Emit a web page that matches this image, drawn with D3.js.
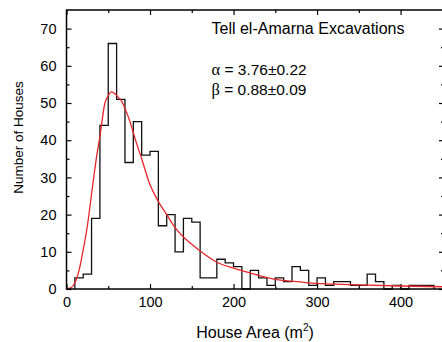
<!DOCTYPE html>
<html>
<head>
<meta charset="utf-8">
<script src="https://cdn.jsdelivr.net/npm/d3@7"></script>
<style>
  body { margin: 0; background: #fff; }
  svg { display: block; font-family: "Liberation Sans", Arial, sans-serif; }
</style>
</head>
<body>
<div id="chart"></div>
<script>
// histogram bins (left edge, m^2) and house counts, 10 m^2 wide
const binStarts = [10, 20, 30, 40, 50, 60, 70, 80, 90, 100, 110, 120, 130, 140, 150, 160, 170, 180, 190, 200,
    210, 220, 230, 240, 250, 260, 270, 280, 290, 300, 310, 320, 330, 340, 350, 360, 370, 380, 390, 400,
    410, 420, 430];
const binCounts = [3, 4, 19, 44, 66, 51, 34, 45, 36, 37, 17, 20, 10, 19, 18, 3, 3, 8, 7, 6,
    0, 5, 3, 1, 3, 2, 6, 5, 1, 3, 1, 2, 2, 1, 1, 4, 2, 0, 1, 0,
    1, 1, 1];
const binWidth = 10;

// fitted curve
const fitX = [0, 5, 10, 15, 20, 25, 28, 32, 36, 40, 46, 50, 54, 58, 62, 66, 70, 76, 82, 90,
    100, 110, 120, 130, 140, 150, 160, 180, 200, 220, 250, 280, 300, 320, 350, 400, 450];
const fitY = [0, 0.3, 1.6, 5, 10.5, 17, 22, 29, 35.5, 41, 50, 52, 53, 52.5, 51.5, 50.5, 48.5, 45, 40.5, 35,
    28, 23.5, 20, 16.5, 14, 12, 10.2, 7.2, 5.6, 4.3, 2.6, 1.9, 1.5, 1.3, 1.1, 0.8, 0.6];

const xTicks = [0, 100, 200, 300, 400];
const yTicks = [0, 10, 20, 30, 40, 50, 60, 70];

const width = 442;
const height = 342;
const margin = { top: 10, right: -2, bottom: 53, left: 66.5 };

const svg = d3.select("#chart").append("svg")
    .attr("width", width)
    .attr("height", height);

const x = d3.scaleLinear()
    .domain([0, 452])
    .range([margin.left, width - margin.right]);
const y = d3.scaleLinear()
    .domain([0, 75])
    .range([height - margin.bottom, margin.top]);

const x0 = x.range()[0], x1 = x.range()[1];
const y0 = y.range()[0], y1 = y.range()[1];

// axes, ticks pointing inward
const xMinor = d3.range(50, 451, 100);
const yMinor = d3.range(5, 75, 10);

function styleAxis(g) {
    g.select(".domain").remove();
    g.selectAll("line").attr("stroke", "#000").attr("stroke-width", 1.2);
    g.selectAll("text").attr("fill", "#000").style("font-size", "14.5px");
}

svg.append("g")
    .attr("transform", `translate(0,${y0})`)
    .call(d3.axisBottom(x).tickValues(xTicks).tickSize(-5).tickPadding(7.5))
    .call(styleAxis);
svg.append("g")
    .attr("transform", `translate(0,${y0})`)
    .call(d3.axisBottom(x).tickValues(xMinor).tickSize(-3).tickFormat(""))
    .call(styleAxis);
svg.append("g")
    .attr("transform", `translate(0,${y1})`)
    .call(d3.axisTop(x).tickValues(xTicks).tickSize(-5).tickFormat(""))
    .call(styleAxis);
svg.append("g")
    .attr("transform", `translate(0,${y1})`)
    .call(d3.axisTop(x).tickValues(xMinor).tickSize(-3).tickFormat(""))
    .call(styleAxis);

svg.append("g")
    .attr("transform", `translate(${x0},0)`)
    .call(d3.axisLeft(y).tickValues(yTicks).tickSize(-5).tickPadding(10))
    .call(styleAxis);
svg.append("g")
    .attr("transform", `translate(${x0},0)`)
    .call(d3.axisLeft(y).tickValues(yMinor).tickSize(-3).tickFormat(""))
    .call(styleAxis);
svg.append("g")
    .attr("transform", `translate(${x1},0)`)
    .call(d3.axisRight(y).tickValues(yTicks).tickSize(-5).tickFormat(""))
    .call(styleAxis);
svg.append("g")
    .attr("transform", `translate(${x1},0)`)
    .call(d3.axisRight(y).tickValues(yMinor).tickSize(-3).tickFormat(""))
    .call(styleAxis);

// histogram outline as one step path
const steps = [[binStarts[0], 0]];
binStarts.forEach((b, i) => steps.push([b, binCounts[i]]));
const lastEdge = binStarts[binStarts.length - 1] + binWidth;
steps.push([lastEdge, binCounts[binCounts.length - 1]]);
steps.push([lastEdge, 0]);

svg.append("path")
    .datum(steps)
    .attr("fill", "none")
    .attr("stroke", "#111")
    .attr("stroke-width", 1.3)
    .attr("d", d3.line()
        .x(d => x(d[0]))
        .y(d => y(d[1]))
        .curve(d3.curveStepAfter));

// fit curve
svg.append("path")
    .datum(fitX.map((v, i) => [v, fitY[i]]))
    .attr("fill", "none")
    .attr("stroke", "#e8262a")
    .attr("stroke-width", 1.3)
    .attr("d", d3.line()
        .x(d => x(d[0]))
        .y(d => y(d[1]))
        .curve(d3.curveMonotoneX));

// frame
svg.append("path")
    .attr("d", `M${x0},${y1}H${x1}V${y0}H${x0}Z`)
    .attr("fill", "none")
    .attr("stroke", "#000")
    .attr("stroke-width", 1.5);

// axis titles
const xt = svg.append("text")
    .attr("x", 255)
    .attr("y", 338)
    .attr("text-anchor", "middle")
    .style("font-size", "16px")
    .text("House Area (m");
xt.append("tspan").attr("dy", -7).style("font-size", "10px").text("2");
xt.append("tspan").attr("dy", 7).text(")");

svg.append("text")
    .attr("transform", `translate(23,137.5) rotate(-90)`)
    .attr("text-anchor", "middle")
    .style("font-size", "13.5px")
    .text("Number of Houses");

// annotations
svg.append("text")
    .attr("x", 211.5).attr("y", 33.5)
    .style("font-size", "16px")
    .text("Tell el-Amarna Excavations");

const a = svg.append("text").attr("x", 211.5).attr("y", 75).style("font-size", "15.5px");
a.append("tspan").style("font-family", "Liberation Serif, serif").style("font-size", "16.5px").text("α");
a.append("tspan").text(" = 3.76±0.22");

const b = svg.append("text").attr("x", 211.5).attr("y", 94.5).style("font-size", "15.5px");
b.append("tspan").style("font-family", "Liberation Serif, serif").style("font-size", "16.5px").text("β");
b.append("tspan").text(" = 0.88±0.09");
</script>
</body>
</html>
